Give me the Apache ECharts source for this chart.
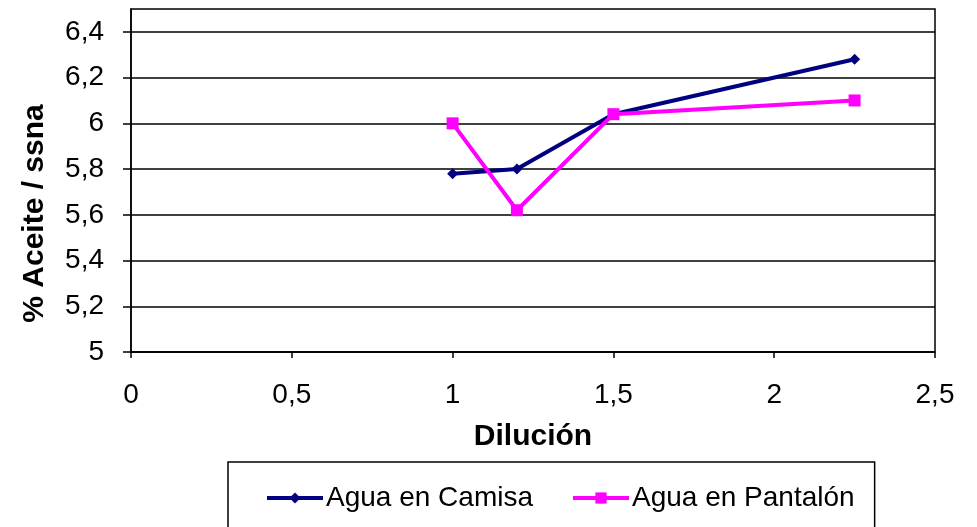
<!DOCTYPE html>
<html>
<head>
<meta charset="utf-8">
<script src="https://cdn.jsdelivr.net/npm/echarts@6/dist/echarts.min.js"></script>
<style>
  html, body { margin: 0; padding: 0; background: #fff; }
  #chart { width: 977px; height: 527px; }
</style>
</head>
<body>
<div id="chart"></div>
<script>
// Dilution levels and oil content for each water treatment
const dilucion = [1, 1.2, 1.5, 2.25];
const aguaCamisa = [5.78, 5.80, 6.04, 6.28];
const aguaPantalon = [6.00, 5.62, 6.04, 6.10];
const yTicks = [5, 5.2, 5.4, 5.6, 5.8, 6, 6.2, 6.4];
const xTicks = [0, 0.5, 1, 1.5, 2, 2.5];

const fmt = v => String(Math.round(v * 10) / 10).replace('.', ',');
const pairs = ys => dilucion.map((x, i) => [x, ys[i]]);
const font = 'Liberation Sans, Arial, sans-serif';

const chart = echarts.init(document.getElementById('chart'));
chart.setOption({
  animation: false,
  grid: {
    left: 131, right: 42, top: 9, bottom: 175,
    show: true, borderColor: '#000', borderWidth: 1.5
  },
  xAxis: {
    type: 'value', min: 0, max: 2.5, interval: 0.5,
    name: 'Dilución', nameLocation: 'middle', nameGap: 70,
    nameTextStyle: { fontFamily: font, fontSize: 30, fontWeight: 'bold', color: '#000' },
    axisLine: { show: true, lineStyle: { color: '#000', width: 1.5 } },
    axisTick: { show: true, length: 6, lineStyle: { color: '#000', width: 1.5 } },
    axisLabel: {
      customValues: xTicks, formatter: fmt, margin: 29,
      fontFamily: font, fontSize: 28, color: '#000'
    },
    splitLine: { show: false }
  },
  yAxis: {
    type: 'value', min: 5, max: 6.5, interval: 0.2,
    name: '% Aceite / ssna', nameLocation: 'middle', nameGap: 81,
    nameTextStyle: {
      fontFamily: font, fontSize: 30, fontWeight: 'bold', color: '#000',
      padding: [0, 66, 0, 0]
    },
    axisLine: { show: true, lineStyle: { color: '#000', width: 1.5 } },
    axisTick: { show: true, length: 8, customValues: yTicks, lineStyle: { color: '#000', width: 1.5 } },
    axisLabel: {
      customValues: yTicks, formatter: fmt, margin: 27,
      fontFamily: font, fontSize: 28, color: '#000'
    },
    splitLine: { show: true, lineStyle: { color: '#000', width: 1.5 } }
  },
  legend: {
    left: 228, top: 462,
    padding: [22, 20, 40, 37],
    borderColor: '#000', borderWidth: 1.5,
    itemWidth: 56, itemHeight: 14, itemGap: 38,
    lineStyle: { width: 4 },
    textStyle: { fontFamily: font, fontSize: 28, color: '#000', padding: [0, 0, 0, -2] },
    data: ['Agua en Camisa', 'Agua en Pantalón']
  },
  series: [
    {
      name: 'Agua en Camisa', type: 'line', data: pairs(aguaCamisa),
      symbol: 'diamond', symbolSize: 11,
      lineStyle: { color: '#000080', width: 4 },
      itemStyle: { color: '#000080' }
    },
    {
      name: 'Agua en Pantalón', type: 'line', data: pairs(aguaPantalon),
      symbol: 'rect', symbolSize: 12,
      lineStyle: { color: '#FF00FF', width: 4 },
      itemStyle: { color: '#FF00FF' }
    }
  ]
});
</script>
</body>
</html>
